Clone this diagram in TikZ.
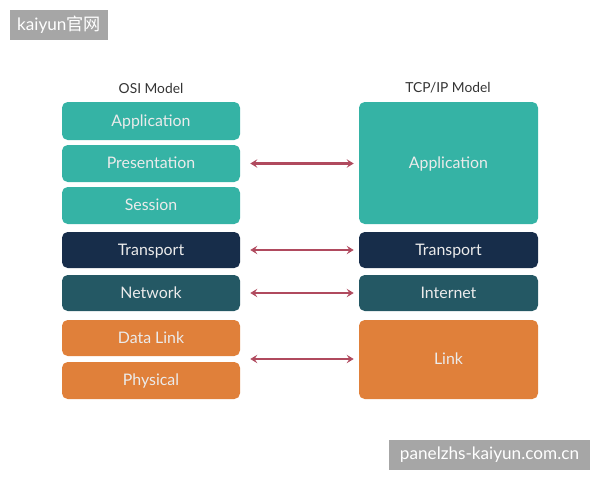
\documentclass[tikz,border=0pt]{standalone}
\usepackage{fontspec}
\setmainfont{Lato}
\newfontfamily\cjkfont{Noto Sans CJK SC}
\usetikzlibrary{positioning,calc,arrows.meta}
\definecolor{layerteal}{HTML}{35B3A5}
\definecolor{layernavy}{HTML}{172D4A}
\definecolor{layerpetrol}{HTML}{245864}
\definecolor{layerorange}{HTML}{E0803A}
\definecolor{linkrose}{HTML}{B04A5E}
\definecolor{markgrey}{HTML}{A6A6A6}
% one layer box: name, left x, top y, width, height, colour, label
\newcommand{\netlayer}[7]{%
  \node[layer,fill=#6,minimum width=#4*0.025cm,minimum height=#5*0.025cm]
        (#1) at (#2+#4/2,#3+#5/2) {#7};
}
\tikzset{
  layer/.style={rounded corners=4pt,inner sep=0pt,text=white!92!black,
                text height=1.75ex,text depth=0.3ex,
                font=\fontsize{11.3}{13}\selectfont},
  modeltitle/.style={font=\fontsize{9.8}{11}\selectfont,text=black!80},
  layerlink/.style={draw=linkrose,line width=1.6pt,
                    {Stealth[length=5pt,width=6pt,inset=2pt]}-{Stealth[length=5pt,width=6pt,inset=2pt]}},
  watermark/.style={fill=markgrey,text=white,inner sep=0pt,
                    font=\fontsize{12.2}{14}\selectfont}
}

\begin{document}
\begin{tikzpicture}[x=0.025cm,y=-0.025cm]
  \useasboundingbox (0,0) rectangle (600,480);
  % OSI column
  \node[modeltitle] (osi-title) at (151,88) {OSI Model};
  \netlayer{osi-app}{62}{102}{178}{38}{layerteal}{Application}
  \netlayer{osi-pres}{62}{145}{178}{37}{layerteal}{Presentation}
  \netlayer{osi-sess}{62}{187}{178}{37}{layerteal}{Session}
  \netlayer{osi-trans}{62}{232}{178}{36}{layernavy}{Transport}
  \netlayer{osi-net}{62}{275}{178}{36}{layerpetrol}{Network}
  \netlayer{osi-dl}{62}{320}{178}{36}{layerorange}{Data Link}
  \netlayer{osi-phy}{62}{362}{178}{37}{layerorange}{Physical}
  % TCP/IP column
  \node[modeltitle] (tcp-title) at (448,88) {TCP/IP Model};
  \netlayer{tcp-app}{359}{102}{179}{122}{layerteal}{Application}
  \netlayer{tcp-trans}{359}{232}{179}{36}{layernavy}{Transport}
  \netlayer{tcp-inet}{359}{275}{179}{36}{layerpetrol}{Internet}
  \netlayer{tcp-link}{359}{320}{179}{79}{layerorange}{Link}
  % mappings
  \coordinate (osi-low) at ($(osi-dl.south east)!0.5!(osi-phy.north east)$);
  \draw[layerlink,shorten <=10*0.025cm,shorten >=5*0.025cm] (osi-pres.east) -- (tcp-app.west|-osi-pres.east);
  \draw[layerlink,shorten <=10*0.025cm,shorten >=5*0.025cm] (osi-trans.east) -- (tcp-trans.west);
  \draw[layerlink,shorten <=10*0.025cm,shorten >=5*0.025cm] (osi-net.east) -- (tcp-inet.west);
  \draw[layerlink,shorten <=10*0.025cm,shorten >=5*0.025cm] (osi-low) -- (tcp-link.west|-osi-low);
  % watermarks
  \node[watermark,minimum width=98*0.025cm,minimum height=30*0.025cm] (mark-top) at (59,25) {kaiyun{\cjkfont 官网}};
  \node[watermark,minimum width=201*0.025cm,minimum height=30*0.025cm] (mark-bottom) at (489.5,455) {panelzhs-kaiyun.com.cn};
\end{tikzpicture}
\end{document}
